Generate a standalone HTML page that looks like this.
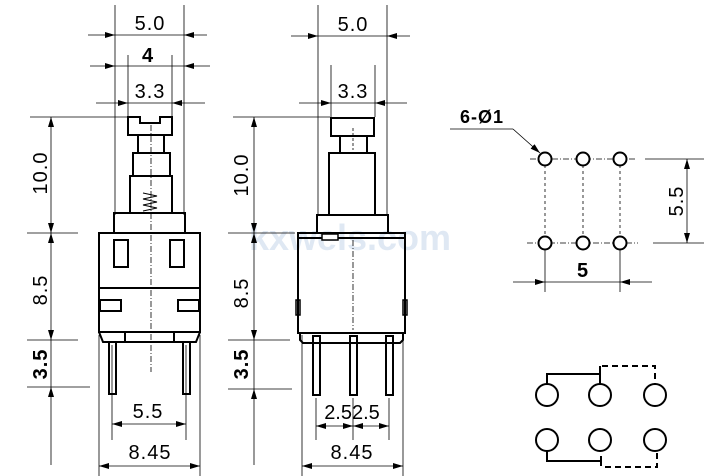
<!DOCTYPE html>
<html><head><meta charset="utf-8"><style>html,body{margin:0;padding:0;background:#fff}svg{display:block}</style></head><body>
<svg width="710" height="476" viewBox="0 0 710 476" xmlns="http://www.w3.org/2000/svg" font-family="Liberation Sans, sans-serif">
<defs>
<marker id="a" viewBox="0 0 10 6" refX="10" refY="3" markerWidth="10" markerHeight="6" markerUnits="userSpaceOnUse" orient="auto-start-reverse"><path d="M0,0L10,3L0,6z" fill="#000"/></marker>
</defs>
<text x="350" y="250" font-size="36" font-weight="bold" fill="#dfe8f3" text-anchor="middle">kxwels.com</text>
<g stroke="#000" stroke-width="0.8" fill="none">
<line x1="115" y1="5" x2="115" y2="215"/><line x1="184" y1="5" x2="184" y2="215"/>
<line x1="88" y1="35" x2="115" y2="35" marker-end="url(#a)"/><line x1="207" y1="35" x2="184" y2="35" marker-end="url(#a)"/><line x1="115" y1="35" x2="184" y2="35"/>
<line x1="128" y1="55" x2="128" y2="117"/><line x1="172" y1="55" x2="172" y2="117"/>
<line x1="90" y1="66" x2="115" y2="66" marker-end="url(#a)"/><line x1="210" y1="66" x2="184" y2="66" marker-end="url(#a)"/><line x1="115" y1="66" x2="184" y2="66"/>
<line x1="96" y1="103" x2="128" y2="103" marker-end="url(#a)"/><line x1="205" y1="103" x2="172" y2="103" marker-end="url(#a)"/><line x1="128" y1="103" x2="172" y2="103"/>
<line x1="30" y1="117" x2="128" y2="117"/><line x1="27" y1="233" x2="78" y2="233"/><line x1="27" y1="340" x2="78" y2="340"/><line x1="27" y1="387" x2="90" y2="387"/>
<line x1="51" y1="175" x2="51" y2="117" marker-end="url(#a)"/><line x1="51" y1="175" x2="51" y2="233" marker-end="url(#a)"/>
<line x1="51" y1="290" x2="51" y2="233" marker-end="url(#a)"/><line x1="51" y1="290" x2="51" y2="340" marker-end="url(#a)"/>
<line x1="51" y1="340" x2="51" y2="387"/><line x1="51" y1="465" x2="51" y2="387" marker-end="url(#a)"/>
<line x1="112" y1="345" x2="112" y2="440"/><line x1="186" y1="345" x2="186" y2="440"/>
<line x1="149" y1="424" x2="112" y2="424" marker-end="url(#a)"/><line x1="149" y1="424" x2="186" y2="424" marker-end="url(#a)"/>
<line x1="99" y1="335" x2="99" y2="476"/><line x1="200" y1="335" x2="200" y2="476"/>
<line x1="150" y1="466" x2="99" y2="466" marker-end="url(#a)"/><line x1="150" y1="466" x2="200" y2="466" marker-end="url(#a)"/>
<line x1="151" y1="125" x2="151" y2="372" stroke-dasharray="6,2,1,2"/>
<line x1="318" y1="5" x2="318" y2="215"/><line x1="387" y1="5" x2="387" y2="215"/>
<line x1="291" y1="36" x2="318" y2="36" marker-end="url(#a)"/><line x1="410" y1="36" x2="387" y2="36" marker-end="url(#a)"/><line x1="318" y1="36" x2="387" y2="36"/>
<line x1="331" y1="65" x2="331" y2="117"/><line x1="375" y1="65" x2="375" y2="117"/>
<line x1="299" y1="103" x2="331" y2="103" marker-end="url(#a)"/><line x1="407" y1="103" x2="375" y2="103" marker-end="url(#a)"/><line x1="331" y1="103" x2="375" y2="103"/>
<line x1="233" y1="117" x2="330" y2="117"/><line x1="228" y1="233" x2="295" y2="233"/><line x1="228" y1="340" x2="290" y2="340"/><line x1="228" y1="389" x2="292" y2="389"/>
<line x1="254" y1="175" x2="254" y2="117" marker-end="url(#a)"/><line x1="254" y1="175" x2="254" y2="233" marker-end="url(#a)"/>
<line x1="254" y1="290" x2="254" y2="233" marker-end="url(#a)"/><line x1="254" y1="290" x2="254" y2="340" marker-end="url(#a)"/>
<line x1="254" y1="340" x2="254" y2="389"/><line x1="254" y1="465" x2="254" y2="389" marker-end="url(#a)"/>
<line x1="316" y1="398" x2="316" y2="440"/><line x1="353" y1="398" x2="353" y2="440"/><line x1="389" y1="398" x2="389" y2="440"/>
<line x1="334" y1="426" x2="316" y2="426" marker-end="url(#a)"/><line x1="334" y1="426" x2="353" y2="426" marker-end="url(#a)"/>
<line x1="371" y1="426" x2="353" y2="426" marker-end="url(#a)"/><line x1="371" y1="426" x2="389" y2="426" marker-end="url(#a)"/>
<line x1="302" y1="335" x2="302" y2="476"/><line x1="403" y1="335" x2="403" y2="476"/>
<line x1="352" y1="466" x2="302" y2="466" marker-end="url(#a)"/><line x1="352" y1="466" x2="403" y2="466" marker-end="url(#a)"/>
<line x1="353" y1="128" x2="353" y2="150" stroke-dasharray="3,2"/>
<line x1="353" y1="240" x2="353" y2="330" stroke-dasharray="6,2,1,2"/>
<line x1="450" y1="129" x2="513" y2="129"/><line x1="513" y1="129" x2="540" y2="153" marker-end="url(#a)"/>
<line x1="530" y1="159" x2="636" y2="159" stroke-dasharray="6,2,1,2"/><line x1="527" y1="243" x2="638" y2="243" stroke-dasharray="6,2,1,2"/>
<line x1="545" y1="159" x2="545" y2="243" stroke-dasharray="3,3"/><line x1="583" y1="159" x2="583" y2="243" stroke-dasharray="3,3"/><line x1="620" y1="159" x2="620" y2="243" stroke-dasharray="3,3"/>
<line x1="645" y1="159" x2="704" y2="159"/><line x1="653" y1="243" x2="704" y2="243"/>
<line x1="687" y1="200" x2="687" y2="159" marker-end="url(#a)"/><line x1="687" y1="200" x2="687" y2="243" marker-end="url(#a)"/>
<line x1="545" y1="250" x2="545" y2="292"/><line x1="620" y1="250" x2="620" y2="292"/>
<line x1="513" y1="282" x2="545" y2="282" marker-end="url(#a)"/><line x1="652" y1="282" x2="620" y2="282" marker-end="url(#a)"/><line x1="545" y1="282" x2="620" y2="282"/>
</g>
<g stroke="#000" stroke-width="2" fill="none">
<path d="M128,117H140V123H160V117H172V135H128Z"/>
<rect x="138" y="135" width="26" height="18"/>
<rect x="133" y="153" width="37" height="23"/>
<rect x="130" y="176" width="42" height="37"/>
<rect x="114" y="213" width="71" height="20"/>
<rect x="99" y="233" width="101" height="99"/>
<line x1="99" y1="288" x2="200" y2="288"/>
<rect x="114" y="240" width="14" height="27"/><rect x="170" y="240" width="14" height="27"/>
<rect x="100" y="300" width="21" height="11"/><rect x="178" y="300" width="21" height="11"/>
<path d="M99,332L103,342H196L200,332"/>
<line x1="125" y1="332" x2="125" y2="342"/><line x1="174" y1="332" x2="174" y2="342"/>
<rect x="109" y="342" width="7" height="52"/><rect x="183" y="342" width="7" height="52"/>
<rect x="331" y="118" width="43" height="18"/>
<rect x="340" y="136" width="27" height="17"/>
<rect x="329" y="153" width="46" height="62"/>
<rect x="317" y="215" width="71" height="18"/>
<path d="M298,233H405V333H298Z"/>
<line x1="298" y1="238" x2="405" y2="238"/>
<rect x="322" y="234" width="16" height="6" stroke-width="1.5" fill="#fff"/>
<rect x="296" y="300" width="4" height="15" stroke-width="1.5"/><rect x="403" y="300" width="4" height="15" stroke-width="1.5"/>
<path d="M300,333V340L303,343H400L403,340V333"/>
<rect x="313" y="336" width="7" height="59"/><rect x="350" y="336" width="7" height="59"/><rect x="386" y="336" width="7" height="59"/>
</g>
<g stroke="#000" stroke-width="2" fill="#fff">
<circle cx="545" cy="159" r="6.5"/><circle cx="583" cy="159" r="6.5"/><circle cx="620" cy="159" r="6.5"/>
<circle cx="545" cy="243" r="6.5"/><circle cx="583" cy="243" r="6.5"/><circle cx="620" cy="243" r="6.5"/>
<circle cx="547" cy="395" r="11"/><circle cx="600" cy="395" r="11"/><circle cx="655" cy="395" r="11"/>
<circle cx="547" cy="440" r="11"/><circle cx="600" cy="440" r="11"/><circle cx="655" cy="440" r="11"/>
<path d="M547,384V374H600M600,366V384" fill="none"/>
<path d="M602,366H655V384" fill="none" stroke-dasharray="6,4"/>
<path d="M547,451V461H601M601,456V466" fill="none"/>
<path d="M605,467H657V451" fill="none" stroke-dasharray="6,4"/>
</g>
<g stroke="#000" stroke-width="1" fill="none">
<path d="M143,193l14,3l-14,3l14,3l-14,3l14,3l-14,3"/>
</g>
<g font-size="20" fill="#000" text-anchor="middle" letter-spacing="1">
<text x="150" y="30">5.0</text>
<text x="148" y="62" font-weight="bold">4</text>
<text x="150" y="98">3.3</text>
<text x="148" y="418">5.5</text>
<text x="150" y="459">8.45</text>
<text transform="translate(47,173) rotate(-90)">10.0</text>
<text transform="translate(47,290) rotate(-90)">8.5</text>
<text transform="translate(47,364) rotate(-90)" font-weight="bold">3.5</text>
<text x="353" y="31">5.0</text>
<text x="353" y="98">3.3</text>
<text x="352" y="419" letter-spacing="0">2.52.5</text>
<text x="352" y="459">8.45</text>
<text transform="translate(248,175) rotate(-90)">10.0</text>
<text transform="translate(248,293) rotate(-90)">8.5</text>
<text transform="translate(248,364) rotate(-90)" font-weight="bold">3.5</text>
<text x="482" y="123" font-weight="bold" font-size="18">6-Ø1</text>
<text transform="translate(683,201) rotate(-90)">5.5</text>
<text x="583" y="277" font-weight="bold">5</text>
</g>
</svg>
</body></html>
